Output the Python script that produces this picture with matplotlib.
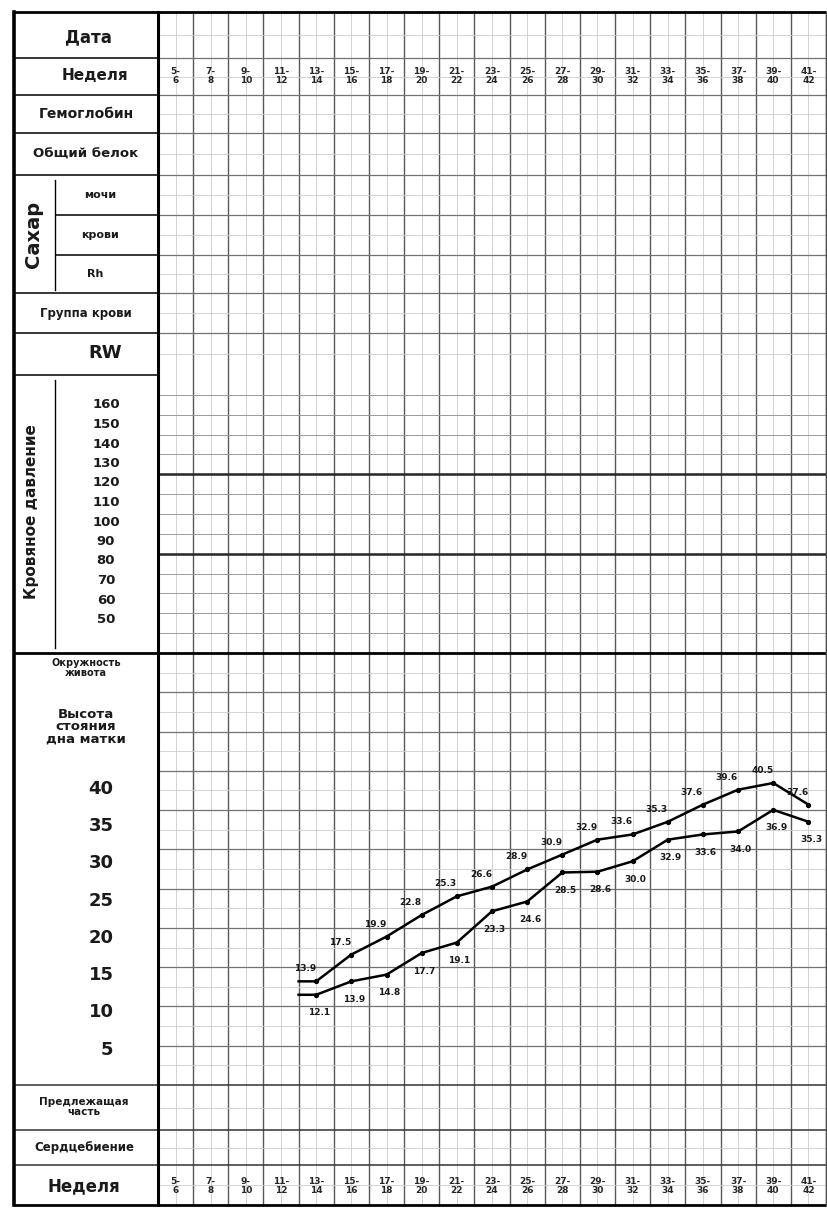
import numpy as np
import matplotlib.pyplot as plt
from matplotlib import transforms

plt.rcParams['font.family'] = ['DejaVu Sans']

# недели беременности (столбцы карты)
weeks = ["5-6", "7-8", "9-10", "11-12", "13-14", "15-16", "17-18", "19-20",
         "21-22", "23-24", "25-26", "27-28", "29-30", "31-32", "33-34",
         "35-36", "37-38", "39-40", "41-42"]
measured = weeks[4:]  # измерения начинаются с 13-14 недели
# высота стояния дна матки, см (две кривые)
upper_vals = [13.9, 17.5, 19.9, 22.8, 25.3, 26.6, 28.9, 30.9, 32.9, 33.6,
              35.3, 37.6, 39.6, 40.5, 37.6]
lower_vals = [12.1, 13.9, 14.8, 17.7, 19.1, 23.3, 24.6, 28.5, 28.6, 30.0,
              32.9, 33.6, 34.0, 36.9, 35.3]
height_ticks = [40, 35, 30, 25, 20, 15, 10, 5]
bp_ticks = [160, 150, 140, 130, 120, 110, 100, 90, 80, 70, 60, 50]

W, H = 828, 1212
fig = plt.figure(figsize=(W / 100, H / 100), dpi=100)
fig.patch.set_facecolor('white')


def px_axes(x0, y0, x1, y1):  # оси по пиксельному прямоугольнику
    return fig.add_axes([x0 / W, 1 - y1 / H, (x1 - x0) / W, (y1 - y0) / H])


ov = px_axes(0, 0, W, H)
ov.set_xlim(0, W)
ov.set_ylim(H, 0)
ov.axis('off')

LX0, GX0, GX1 = 14, 158, 826
TOP, BOT = 12, 1205
CW = (GX1 - GX0) / len(weeks)
MAJ, MIN = '0.45', '0.8'


def hl(y, x0=GX0, x1=GX1, c=MAJ, lw=0.9):
    ov.plot([x0, x1], [y, y], color=c, lw=lw, solid_capstyle='butt')


# сетка: вертикальные линии
for k in range(len(weeks) + 1):
    x = GX0 + k * CW
    ov.plot([x, x], [TOP, BOT], color='0.35', lw=1.0)
for k in range(len(weeks)):
    x = GX0 + (k + 0.5) * CW
    ov.plot([x, x], [TOP, BOT], color=MIN, lw=0.6)

# верхняя таблица
header_rows = [12, 58, 95, 133, 175, 215, 255, 293, 333, 375]
for a, b in zip(header_rows[:-1], header_rows[1:]):
    hl(a)
    hl((a + b) / 2, c=MIN, lw=0.6)
# кровяное давление
bp_top, bp_bot = 375, 653
step = (bp_bot - bp_top) / 14
for k in range(1, 14):
    y = bp_top + k * step
    if k in (5, 9):
        hl(y, c='0.15', lw=1.8)
    else:
        hl(y, c='0.6', lw=0.7)
# высота дна матки
f_top, f_bot = 653, 1085
step = (f_bot - f_top) / 11
for k in range(11):
    hl(f_top + (k + 0.5) * step, c=MIN, lw=0.6)
    if k:
        hl(f_top + k * step)
# нижние строки
bottom_rows = [1085, 1130, 1165, 1205]
for a, b in zip(bottom_rows[:-1], bottom_rows[1:]):
    hl((a + b) / 2, c=MIN, lw=0.6)
for y in bottom_rows[:-1]:
    hl(y, x0=LX0, c='0.2', lw=1.1)

# рамка
hl(TOP, x0=LX0, c='k', lw=2.0)
hl(BOT, x0=LX0, c='k', lw=2.0)
hl(653, x0=LX0, c='k', lw=2.0)
ov.plot([LX0, LX0], [TOP, BOT], color='k', lw=2.6)
ov.plot([GX0, GX0], [TOP, BOT], color='k', lw=2.2)
ov.plot([GX1, GX1], [TOP, BOT], color='0.3', lw=1.0)

# левая колонка
for y in header_rows[1:]:
    x0 = 55 if y in (215, 255) else LX0
    hl(y, x0=x0, x1=GX0, c='k', lw=1.1)
ov.plot([55, 55], [180, 290], color='k', lw=1.0)
ov.plot([55, 55], [380, 648], color='k', lw=1.0)

txt = dict(ha='center', va='center', color='0.1', fontweight='bold')
ov.text(88, 37, "Дата", fontsize=12, **txt)
ov.text(95, 76, "Неделя", fontsize=11, **txt)
ov.text(86, 114, "Гемоглобин", fontsize=10, **txt)
ov.text(86, 154, "Общий белок", fontsize=9.5, **txt)
ov.text(34, 234, "Сахар", fontsize=14, rotation=90, **txt)
ov.text(100, 195, "мочи", fontsize=8, **txt)
ov.text(100, 235, "крови", fontsize=8, **txt)
ov.text(95, 274, "Rh", fontsize=8, **txt)
ov.text(86, 313, "Группа крови", fontsize=8.5, **txt)
ov.text(105, 353, "RW", fontsize=13, **txt)
ov.text(32, 512, "Кровяное давление", fontsize=11, rotation=90, **txt)
for i, v in enumerate(bp_ticks):
    ov.text(106, 405 + i * 19.5, str(v), fontsize=9.5, **txt)
ov.text(86, 668, "Окружность\nживота", fontsize=7, linespacing=0.9, **txt)
ov.text(86, 727, "Высота\nстояния\nдна матки", fontsize=9.5,
        linespacing=0.95, **txt)
ov.text(84, 1107, "Предлежащая\nчасть", fontsize=7.5, linespacing=0.9, **txt)
ov.text(84, 1148, "Сердцебиение", fontsize=8.5, **txt)
ov.text(84, 1186, "Неделя", fontsize=12, **txt)

# график высоты стояния дна матки
ax = px_axes(GX0, f_top, GX1, f_bot)
ax.set_facecolor('none')
ax.set_xlim(0, len(weeks))
ax.set_ylim(0, (f_bot - f_top) / 7.457)
for s in ax.spines.values():
    s.set_visible(False)
ax.set_xticks([])
ax.set_yticks(height_ticks)
ax.set_yticklabels([str(t) for t in height_ticks], fontsize=13,
                   color='0.1', fontweight='bold')
ax.tick_params(axis='y', length=0, pad=32)

x = np.array([weeks.index(w) for w in measured]) + 0.5
for vals, off in ((upper_vals, (-8, 9)), (lower_vals, (2, -13))):
    vals = np.array(vals)
    ax.plot(np.r_[x[0] - 0.5, x], np.r_[vals[0], vals], color='k', lw=1.8)
    ax.plot(x, vals, 'o', color='k', ms=2.8)
    for xi, v in zip(x, vals):
        ax.annotate(f"{v:.1f}", (xi, v), xytext=off,
                    textcoords='offset points', fontsize=6.5,
                    fontweight='bold', ha='center', va='center', color='0.1')

# подписи недель сверху и снизу
trans = transforms.blended_transform_factory(ax.transData, ov.transData)
for i, w in enumerate(weeks):
    a, b = w.split('-')
    for y in (76, 1186):
        ov.text(i + 0.5, y, f"{a}-\n{b}", transform=trans, fontsize=6.5,
                ha='center', va='center', linespacing=0.9, color='0.15',
                fontweight='bold')

fig.savefig('out.png', dpi=100)
